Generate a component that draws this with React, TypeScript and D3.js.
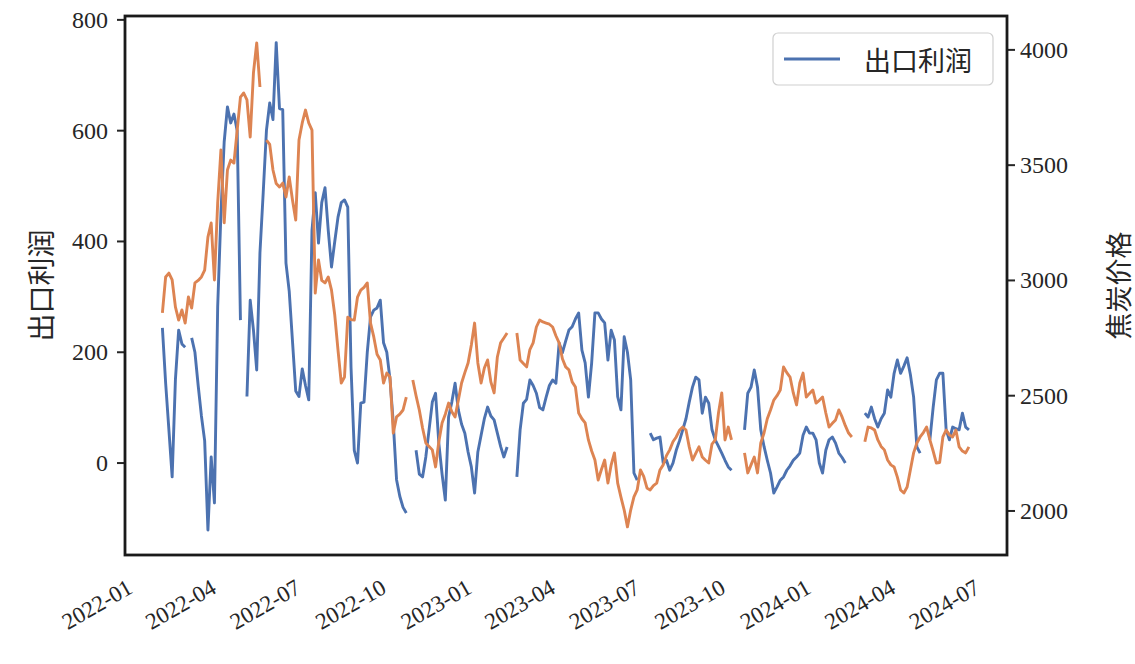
import * as d3 from 'd3'

const WIDTH = 1135
const HEIGHT = 664

// half-weekly series (every 84 hours), first observation
const START = new Date(2022, 1, 7)
const STEP_HOURS = 84

const profit: Array<number | null> = [
  244, 144, 60, -25, 150, 240, 215, 209, null, 226,
  200, 140, 85, 40, -121, 11, -72, 282, 451, 580,
  643, 614, 630, 600, 258, null, 120, 294, 240, 168,
  380, 488, 601, 650, 620, 759, 640, 638, 361, 310,
  220, 130, 120, 170, 140, 114, 420, 488, 397, 470,
  497, 420, 354, 400, 444, 470, 475, 462, 173, 23,
  0, 108, 110, 200, 264, 276, 280, 294, 217, 200,
  150, 72, -30, -60, -80, -90, null, null, 23, -20,
  -25, 11, 60, 110, 126, 36, -20, -67, 83, 110,
  144, 96, 70, 54, 20, -7, -54, 20, 50, 80,
  101, 85, 78, 54, 30, 11, 29, null, null, -25,
  60, 108, 115, 150, 140, 126, 100, 96, 119, 140,
  150, 144, 217, 199, 220, 240, 246, 260, 271, 204,
  181, 119, 181, 271, 271, 260, 253, 186, 240, 222,
  120, 96, 228, 200, 150, -18, -31, null, null, null,
  54, 42, 45, 47, 0, 5, -13, 0, 23, 40,
  60, 80, 110, 137, 155, 150, 90, 119, 108, 60,
  42, 30, 18, 5, -7, -13, null, null, null, 60,
  126, 137, 168, 137, 60, 30, 5, -18, -54, -43,
  -31, -25, -13, -5, 5, 11, 18, 50, 65, 54,
  54, 42, 0, -18, 23, 42, 47, 36, 18, 10,
  0, null, null, null, null, null, 90, 83, 101, 80,
  65, 80, 90, 132, 119, 162, 186, 162, 175, 190,
  160, 119, 29, 18, null, null, 42, 100, 150, 162,
  162, 60, 42, 65, 62, 60, 90, 65, 60,
]

const cokePrice: Array<number | null> = [
  2859, 3015, 3032, 3002, 2885, 2828, 2872, 2815, 2928, 2880,
  2989, 3000, 3015, 3045, 3188, 3249, 3002, 3336, 3566, 3250,
  3479, 3522, 3509, 3652, 3795, 3813, 3783, 3622, 3900, 4030,
  3839, null, 3609, 3590, 3479, 3420, 3405, 3422, 3362, 3449,
  3349, 3262, 3609, 3683, 3739, 3683, 3652, 2945, 3089, 3000,
  2989, 3015, 2958, 2850, 2698, 2555, 2581, 2841, 2830, 2828,
  2928, 2958, 2970, 2989, 2815, 2755, 2680, 2655, 2555, 2598,
  2581, 2338, 2408, 2420, 2438, 2494, null, 2568, 2500, 2438,
  2360, 2295, 2280, 2265, 2191, 2300, 2382, 2420, 2468, 2430,
  2408, 2480, 2555, 2600, 2642, 2720, 2815, 2642, 2555, 2620,
  2655, 2560, 2512, 2668, 2729, 2750, 2772, null, null, 2772,
  2655, 2640, 2625, 2700, 2729, 2798, 2828, 2820, 2815, 2810,
  2798, 2760, 2729, 2660, 2625, 2612, 2560, 2538, 2425, 2400,
  2382, 2308, 2260, 2221, 2134, 2180, 2221, 2121, 2200, 2252,
  2121, 2060, 2004, 1931, 2004, 2061, 2091, 2178, 2150, 2100,
  2091, 2110, 2121, 2178, 2200, 2240, 2265, 2300, 2321, 2350,
  2364, 2351, 2278, 2221, 2250, 2278, 2234, 2220, 2208, 2290,
  2308, 2425, 2512, 2308, 2364, 2308, null, null, null, 2252,
  2165, 2200, 2234, 2165, 2295, 2338, 2400, 2438, 2481, 2500,
  2525, 2625, 2600, 2581, 2512, 2460, 2555, 2598, 2494, 2510,
  2525, 2468, 2480, 2494, 2425, 2364, 2380, 2395, 2438, 2408,
  2370, 2338, 2321, null, null, null, 2300, 2364, 2360, 2351,
  2308, 2280, 2265, 2221, 2200, 2191, 2147, 2091, 2078, 2104,
  2178, 2252, 2295, 2321, 2340, 2364, 2308, 2260, 2208, 2210,
  2321, 2351, 2330, 2321, 2351, 2278, 2260, 2252, 2278,
]

const xTickLabels = [
  '2022-01', '2022-04', '2022-07', '2022-10', '2023-01', '2023-04',
  '2023-07', '2023-10', '2024-01', '2024-04', '2024-07',
]
const leftTicks = [0, 200, 400, 600, 800]
const rightTicks = [2000, 2500, 3000, 3500, 4000]

const BLUE = '#4c72b0'
const ORANGE = '#dd8452'
const TEXT = '#262626'
const NUM_FONT = '"Liberation Serif", "DejaVu Serif", serif'
const CJK_FONT = '"Noto Sans CJK SC", sans-serif'

export default function App() {
  const margin = { left: 125, right: 1007, top: 16, bottom: 555 }

  const x = d3
    .scaleTime()
    .domain([new Date(2021, 11, 28, 18), new Date(2024, 7, 4)])
    .range([margin.left, margin.right])
  const yLeft = d3.scaleLinear().domain([-166, 807]).range([margin.bottom, margin.top])
  const yRight = d3.scaleLinear().domain([1809, 4147]).range([margin.bottom, margin.top])

  const dates = profit.map((_, i) => d3.timeHour.offset(START, i * STEP_HOURS))
  const parseMonth = d3.timeParse('%Y-%m')

  const profitLine = d3
    .line<number | null>()
    .defined((d) => d !== null)
    .x((_, i) => x(dates[i]))
    .y((d) => yLeft(d as number))
  const cokeLine = d3
    .line<number | null>()
    .defined((d) => d !== null)
    .x((_, i) => x(dates[i]))
    .y((d) => yRight(d as number))

  return (
    <svg
      width={WIDTH}
      height={HEIGHT}
      style={{ position: 'absolute', left: 0, top: 0, background: '#fff' }}
    >
      <defs>
        <clipPath id="plot-clip">
          <rect x={margin.left} y={margin.top} width={margin.right - margin.left} height={margin.bottom - margin.top} />
        </clipPath>
      </defs>

      <g clipPath="url(#plot-clip)" fill="none" strokeWidth={2.9} strokeLinejoin="round">
        <path d={profitLine(profit) ?? undefined} stroke={BLUE} />
        <path d={cokeLine(cokePrice) ?? undefined} stroke={ORANGE} />
      </g>

      {/* left axis */}
      {leftTicks.map((t) => (
        <g key={`l${t}`} transform={`translate(0,${yLeft(t)})`}>
          <line x1={margin.left - 8} x2={margin.left} stroke={TEXT} strokeWidth={2} />
          <text x={margin.left - 17} dy="0.33em" textAnchor="end" fontFamily={NUM_FONT} fontSize={24} fill={TEXT}>
            {t}
          </text>
        </g>
      ))}

      {/* right axis */}
      {rightTicks.map((t) => (
        <g key={`r${t}`} transform={`translate(0,${yRight(t)})`}>
          <line x1={margin.right} x2={margin.right + 8} stroke={TEXT} strokeWidth={2} />
          <text x={margin.right + 13} dy="0.33em" textAnchor="start" fontFamily={NUM_FONT} fontSize={24} fill={TEXT}>
            {t}
          </text>
        </g>
      ))}

      {/* x axis labels, rotated like autofmt_xdate */}
      {xTickLabels.map((lab) => {
        const px = x(parseMonth(lab) as Date)
        return (
          <text
            key={lab}
            transform={`translate(${px - 2},${margin.bottom + 23}) rotate(-30)`}
            dy="0.7em"
            textAnchor="end"
            fontFamily={NUM_FONT}
            fontSize={23}
            fill={TEXT}
          >
            {lab}
          </text>
        )
      })}

      {/* frame */}
      <rect
        x={margin.left}
        y={margin.top}
        width={margin.right - margin.left}
        height={margin.bottom - margin.top}
        fill="none"
        stroke="#1a1a1a"
        strokeWidth={2.8}
      />

      <text
        transform={`translate(40,${(margin.top + margin.bottom) / 2}) rotate(-90)`}
        textAnchor="middle"
        dominantBaseline="central"
        fontFamily={CJK_FONT}
        fontSize={28}
        fill={TEXT}
      >
        出口利润
      </text>
      <text
        transform={`translate(1117,${(margin.top + margin.bottom) / 2}) rotate(-90)`}
        textAnchor="middle"
        dominantBaseline="central"
        fontFamily={CJK_FONT}
        fontSize={27}
        fill={TEXT}
      >
        焦炭价格
      </text>

      {/* legend */}
      <g>
        <rect x={773} y={33} width={220} height={52} rx={5} fill="#fff" fillOpacity={0.8} stroke="#d0d0d0" strokeWidth={1.2} />
        <line x1={784} x2={840} y1={59} y2={59} stroke={BLUE} strokeWidth={2.9} />
        <text x={864} y={59} dominantBaseline="central" fontFamily={CJK_FONT} fontSize={27} fill={TEXT}>
          出口利润
        </text>
      </g>
    </svg>
  )
}
